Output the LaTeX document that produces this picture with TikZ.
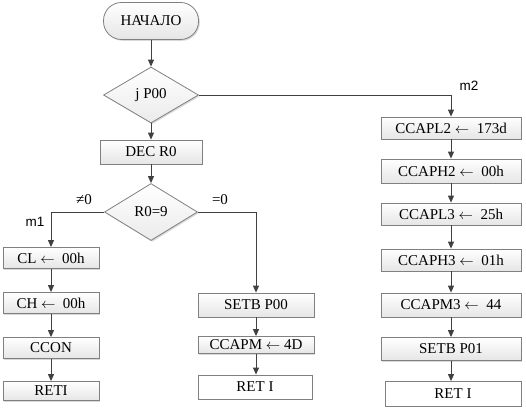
\documentclass[tikz,border=0pt]{standalone}
\usepackage{fontspec}
\setmainfont{Liberation Serif}
\newfontfamily\tagfont{Liberation Sans}
\usetikzlibrary{arrows.meta,shapes.geometric,shadows}
\definecolor{wire}{HTML}{404040}
\definecolor{rim}{HTML}{808080}

\begin{document}
\begin{tikzpicture}[
  x=1pt, y=-1pt, line width=.8pt, text=black,
  font=\fontsize{15}{17}\selectfont,
  flow/.style={draw=wire, line width=1pt, -{Triangle[length=7pt,width=6pt]}},
  op/.style={rectangle, draw=rim, top color=white, bottom color=black!10,
    drop shadow={shadow xshift=1.3pt, shadow yshift=-1.3pt, fill=black!30},
    inner sep=0pt, minimum height=22pt},
  bare/.style={rectangle, draw=rim, fill=white, inner sep=0pt, minimum height=24pt},
  test/.style={diamond, draw=rim, top color=white, bottom color=black!8,
    drop shadow={shadow xshift=1.3pt, shadow yshift=-1.3pt, fill=black!30},
    inner sep=0pt, aspect=1.7},
  tag/.style={font=\tagfont\fontsize{13.5}{15}\selectfont, inner sep=1pt},
]
  % Frame: same size as the page.
  \useasboundingbox (0,0) rectangle (526,415);

  % Main trunk.
  \node[op, rounded corners=18pt, minimum width=95pt, minimum height=37pt]
    (start) at (151,21) {НАЧАЛО};
  \node[test, minimum width=95pt, minimum height=56pt] (jp) at (151,95) {j P00};
  \node[op, minimum width=102pt, minimum height=24pt] (dec) at (151,152) {DEC R0};
  \node[test, minimum width=93pt, minimum height=57pt] (cmp) at (151,212) {R0=9};

  % Branch m1 (left column).
  \def\lx{51}
  \node[op, minimum width=96pt, minimum height=21pt] (cl) at (\lx,258) {CL $\leftarrow$\ \ 00h};
  \node[op, minimum width=96pt, minimum height=21pt] (ch) at (\lx,303) {CH $\leftarrow$\ \ 00h};
  \node[op, minimum width=96pt, minimum height=21pt] (ccon) at (\lx,348) {CCON};
  \node[op, minimum width=96pt, minimum height=19pt] (reti) at (\lx,391) {RETI};

  % Branch =0 (middle column).
  \def\mx{256}
  \node[op, minimum width=116pt, minimum height=24pt] (setbz) at (\mx,305) {SETB P00};
  \node[op, minimum width=116pt, minimum height=17pt] (capm) at (\mx,345) {CCAPM $\leftarrow$ 4D};
  \node[bare, minimum width=114pt] (retz) at (\mx-1,387) {RET I};

  % Branch m2 (right column).
  \def\rx{451}
  \node[op, minimum width=140pt] (capla) at (\rx,128) {CCAPL2 $\leftarrow$\ \ 173d};
  \node[op, minimum width=140pt, minimum height=24pt] (capha) at (\rx,171) {CCAPH2 $\leftarrow$\ \ 00h};
  \node[op, minimum width=140pt] (caplb) at (\rx,214) {CCAPL3 $\leftarrow$\ \ 25h};
  \node[op, minimum width=140pt] (caphb) at (\rx,260) {CCAPH3 $\leftarrow$\ \ 01h};
  \node[op, minimum width=140pt, minimum height=24pt] (capmb) at (\rx,305) {CCAPM3 $\leftarrow$\ \ 44};
  \node[op, minimum width=140pt, minimum height=23pt] (setbo) at (\rx,349) {SETB P01};
  \node[bare, minimum width=136pt, minimum height=25pt] (reto) at (\rx+2,394) {RET I};

  % Connectors.
  \draw[flow] (start) -- (jp);
  \draw[flow] (jp) -- (dec);
  \draw[flow] (dec) -- (cmp);
  \draw[flow] (jp.east) -| (capla.north);
  \draw[flow] (cmp.west) -| (cl.north);
  \draw[flow] (cmp.east) -| (setbz.north);
  \draw[flow] (cl) -- (ch);
  \draw[flow] (ch) -- (ccon);
  \draw[flow] (ccon) -- (reti);
  \draw[flow] (setbz) -- (capm);
  \draw[flow] (capm) -- (retz.north -| capm);
  \draw[flow] (capla) -- (capha);
  \draw[flow] (capha) -- (caplb);
  \draw[flow] (caplb) -- (caphb);
  \draw[flow] (caphb) -- (capmb);
  \draw[flow] (capmb) -- (setbo);
  \draw[flow] (setbo) -- (reto.north -| setbo);

  % Branch labels.
  \node (ne) at (84,200) {≠0};
  \node (eq) at (220,200) {=0};
  \node[tag] (mone) at (35,222) {m1};
  \node[tag] (mtwo) at (469,86) {m2};
\end{tikzpicture}
\end{document}
